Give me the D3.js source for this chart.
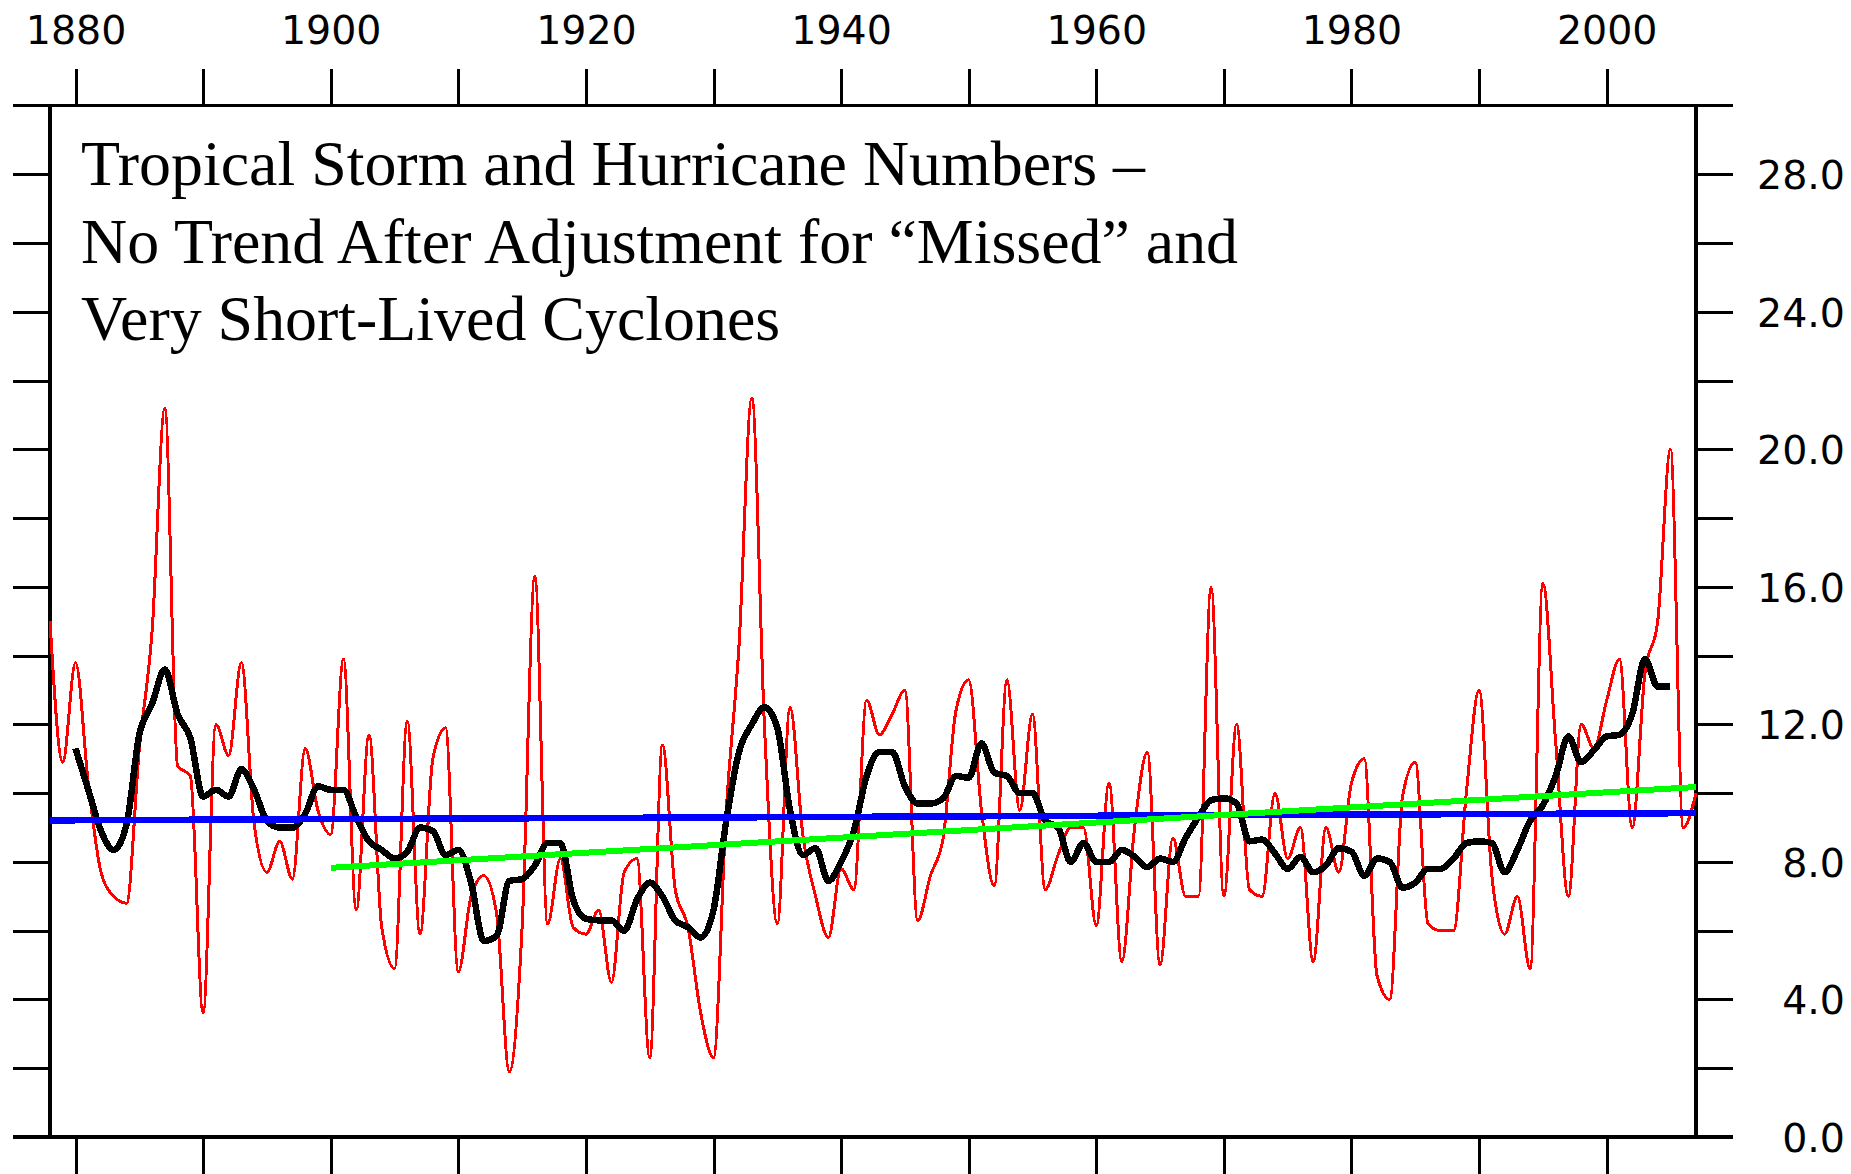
<!DOCTYPE html>
<html>
<head>
<meta charset="utf-8">
<script src="https://cdn.jsdelivr.net/npm/d3@7"></script>
<style>
  html, body { margin: 0; padding: 0; background: #fff; }
  svg { display: block; }
</style>
</head>
<body>
<svg id="chart" width="1851" height="1174"></svg>
<script>
// Annual tropical storm and hurricane numbers (adjusted), 1878–2007
const firstYear = 1878;
const stormCounts = [
  15.0, 10.9, 13.8, 10.3, 7.7, 7.0, 6.8, 11.3, 14.7, 21.2,   // 1878-1887
  10.8, 10.5, 3.6, 12.0, 11.1, 13.8, 9.1, 7.7, 8.6, 7.5,     // 1888-1897
  11.3, 9.5, 8.8, 13.9, 6.6, 11.7, 6.1, 4.9, 12.1, 5.9,      // 1898-1907
  11.0, 11.9, 4.8, 7.0, 7.6, 6.5, 1.9, 6.1, 16.3, 6.2,       // 1908-1917
  8.1, 6.1, 5.9, 6.6, 4.5, 7.7, 8.1, 2.3, 11.4, 7.2,         // 1918-1927
  6.1, 3.6, 2.3, 9.5, 14.3, 21.5, 11.9, 6.2, 12.5, 8.8,      // 1928-1937
  7.0, 5.8, 7.8, 7.2, 12.7, 11.7, 12.3, 13.0, 6.3, 7.6,      // 1938-1947
  8.7, 12.4, 13.3, 9.5, 7.3, 13.3, 9.5, 12.3, 7.2, 8.2,      // 1948-1957
  9.0, 9.0, 6.15, 10.3, 5.1, 9.0, 11.2, 5.0, 8.7, 7.0,       // 1958-1967
  7.0, 16.0, 7.0, 12.0, 7.2, 7.0, 10.0, 8.1, 9.0, 5.1,       // 1968-1977
  9.0, 7.7, 10.3, 11.0, 4.7, 4.0, 9.9, 10.9, 6.2, 6.0,       // 1978-1987
  6.0, 10.0, 13.0, 7.6, 5.9, 7.0, 4.9, 16.1, 11.5, 7.0,      // 1988-1997
  12.0, 11.3, 12.7, 13.9, 9.0, 13.5, 15.0, 20.0, 9.0, 10.0   // 1998-2007
];

// Five-year running mean, 1880–2005
const meanFirstYear = 1880;
const runningMean = [
  11.3, 10.1, 8.9, 8.35, 9.1, 11.7, 12.6, 13.6, 12.3, 11.6,  // 1880-1889
  9.9, 10.1, 9.9, 10.7, 10.1, 9.2, 9.0, 9.0, 9.4, 10.2,      // 1890-1899
  10.1, 10.1, 9.3, 8.6, 8.35, 8.1, 8.3, 9.0, 8.9, 8.2,       // 1900-1909
  8.35, 7.4, 5.7, 5.85, 7.45, 7.5, 7.9, 8.55, 8.55, 6.9,     // 1910-1919
  6.35, 6.3, 6.3, 6.0, 6.9, 7.4, 7.0, 6.3, 6.1, 5.8,         // 1920-1929
  6.6, 9.2, 11.2, 12.0, 12.5, 11.9, 9.5, 8.2, 8.4, 7.45,     // 1930-1939
  8.0, 8.9, 10.5, 11.2, 11.2, 10.2, 9.7, 9.7, 9.85, 10.5,    // 1940-1949
  10.45, 11.45, 10.6, 10.5, 10.0, 10.0, 9.2, 9.0, 8.0, 8.55, // 1950-1959
  8.0, 8.0, 8.35, 8.15, 7.85, 8.1, 8.0, 8.7, 9.3, 9.8,       // 1960-1969
  9.85, 9.7, 8.6, 8.65, 8.25, 7.8, 8.15, 7.7, 7.9, 8.4,      // 1970-1979
  8.3, 7.6, 8.1, 8.0, 7.25, 7.4, 7.8, 7.8, 8.1, 8.55,        // 1980-1989
  8.6, 8.55, 7.7, 8.35, 9.2, 9.65, 10.5, 11.65, 10.9, 11.25, // 1990-1999
  11.65, 11.7, 12.3, 13.9, 13.1, 13.1                        // 2000-2005
];

// Linear trends: whole record, and 1900 onwards
const trendAllYears = [1878, 2007];
const trendAllValues = [9.21, 9.42];
const trend1900Years = [1900, 2007];
const trend1900Values = [7.83, 10.18];

// Axis ticks and labels
const yearTicks = [1880, 1890, 1900, 1910, 1920, 1930, 1940, 1950, 1960, 1970, 1980, 1990, 2000];
const yearLabels = [1880, 1900, 1920, 1940, 1960, 1980, 2000];
const valueTicks = [0, 2, 4, 6, 8, 10, 12, 14, 16, 18, 20, 22, 24, 26, 28];
const valueLabels = [0, 4, 8, 12, 16, 20, 24, 28];

const titleLines = [
  "Tropical Storm and Hurricane Numbers \u2013",
  "No Trend After Adjustment for \u201cMissed\u201d and",
  "Very Short-Lived Cyclones"
];

// ---------------------------------------------------------------
const svg = d3.select("#chart");
svg.append("rect").attr("width", 1851).attr("height", 1174).attr("fill", "#fff");

const x = d3.scaleLinear().domain([1878, 2007]).range([50, 1696]);
const y = d3.scaleLinear().domain([0, 30]).range([1137, 105.6]);

const tickLen = 37;
const axisFont = "'DejaVu Sans', 'Liberation Sans', sans-serif";

function styleAxis(g) {
  g.select(".domain").remove();
  g.selectAll(".tick line").attr("stroke", "#000").attr("stroke-width", 3)
    .attr("shape-rendering", "crispEdges");
  g.attr("font-family", axisFont).attr("font-size", 39.5);
  g.selectAll(".tick text").attr("fill", "#000");
}

// Top axis with year labels
svg.append("g")
  .attr("transform", `translate(0,${y(30)})`)
  .call(d3.axisTop(x).tickValues(yearTicks).tickSize(tickLen).tickPadding(25)
    .tickFormat(d => yearLabels.includes(d) ? String(d) : ""))
  .call(styleAxis);

// Bottom axis, ticks only
svg.append("g")
  .attr("transform", `translate(0,${y(0)})`)
  .call(d3.axisBottom(x).tickValues(yearTicks).tickSize(tickLen).tickFormat(() => ""))
  .call(styleAxis);

// Left axis, ticks only
svg.append("g")
  .attr("transform", `translate(${x(1878)},0)`)
  .call(d3.axisLeft(y).tickValues(valueTicks).tickSize(tickLen).tickFormat(() => ""))
  .call(styleAxis);

// Right axis with value labels, right-aligned at the page edge
svg.append("g")
  .attr("transform", `translate(${x(2007)},0)`)
  .call(d3.axisRight(y).tickValues(valueTicks).tickSize(tickLen)
    .tickFormat(d => valueLabels.includes(d) ? d.toFixed(1) : ""))
  .call(styleAxis)
  .call(g => g.selectAll(".tick text")
    .attr("text-anchor", "end")
    .attr("x", 1845 - x(2007))
    .attr("dy", "0.36em"));

// Frame: horizontal edges run out to the ends of the side ticks
const frame = svg.append("g").attr("stroke", "#000").attr("stroke-width", 3.3)
  .attr("shape-rendering", "crispEdges");
frame.append("line").attr("x1", x(1878) - tickLen).attr("x2", x(2007) + tickLen)
  .attr("y1", y(30)).attr("y2", y(30));
frame.append("line").attr("x1", x(1878) - tickLen).attr("x2", x(2007) + tickLen)
  .attr("y1", y(0)).attr("y2", y(0));
frame.append("line").attr("x1", x(1878)).attr("x2", x(1878))
  .attr("y1", y(30)).attr("y2", y(0));
frame.append("line").attr("x1", x(2007)).attr("x2", x(2007))
  .attr("y1", y(30)).attr("y2", y(0));

// Series
const annual = stormCounts.map((v, i) => ({ year: firstYear + i, value: v }));
const smooth = runningMean.map((v, i) => ({ year: meanFirstYear + i, value: v }));
const trendAll = trendAllYears.map((yr, i) => ({ year: yr, value: trendAllValues[i] }));
const trend1900 = trend1900Years.map((yr, i) => ({ year: yr, value: trend1900Values[i] }));

const curved = d3.line().x(d => x(d.year)).y(d => y(d.value)).curve(d3.curveMonotoneX);
const straight = d3.line().x(d => x(d.year)).y(d => y(d.value));

const plot = svg.append("g").attr("fill", "none").attr("stroke-linejoin", "round")
  .attr("shape-rendering", "crispEdges");

plot.append("path").datum(annual).attr("d", curved)
  .attr("stroke", "#ff0000").attr("stroke-width", 3);
plot.append("path").datum(smooth).attr("d", curved)
  .attr("stroke", "#000").attr("stroke-width", 6.5);
plot.append("path").datum(trendAll).attr("d", straight)
  .attr("stroke", "#0000ff").attr("stroke-width", 6.5);
plot.append("path").datum(trend1900).attr("d", straight)
  .attr("stroke", "#00ff00").attr("stroke-width", 6);

// Title
const title = svg.append("text")
  .attr("font-family", "'Liberation Serif', 'Times New Roman', serif")
  .attr("font-size", 63.9)
  .attr("fill", "#000");
titleLines.forEach((line, i) => {
  title.append("tspan").attr("x", 81).attr("y", 185 + i * 77.5).text(line);
});
</script>
</body>
</html>
